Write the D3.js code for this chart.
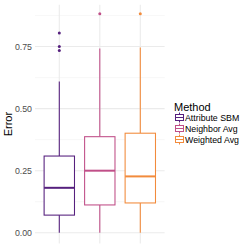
<!DOCTYPE html>
<html>
<head>
<meta charset="utf-8">
<script src="https://cdn.jsdelivr.net/npm/d3@7"></script>
<style>
body { margin: 0; background: #fff; }
text { font-family: "Liberation Sans", Arial, sans-serif; }
</style>
</head>
<body>
<div id="chart"></div>
<script>
let methods = ["Attribute SBM", "Neighbor Avg", "Weighted Avg"]
let colors = ["#56207e", "#c04f88", "#f28b3c"]
let lowerWhisker = [0, 0, 0]
let q1 = [0.071, 0.112, 0.120]
let median = [0.181, 0.250, 0.227]
let q3 = [0.309, 0.387, 0.401]
let upperWhisker = [0.609, 0.742, 0.746]
let outliers = [[0.805, 0.750, 0.734], [0.882], [0.882]]
let yTicks = [0, 0.25, 0.5, 0.75]
let yMinor = [0.125, 0.375, 0.625, 0.875]

let width = 249
let height = 249
let panelLeft = 35, panelRight = 164.6, panelTop = 4.7, panelBottom = 243.6

let svg = d3.select("#chart")
            .append("svg")
            .attr("width", width)
            .attr("height", height)

let xScale = d3.scalePoint()
    .domain(methods)
    .range([panelLeft, panelRight])
    .padding(0.6)
let step = xScale.step()
let boxW = step * 0.75

let yScale = d3.scaleLinear()
    .domain([-0.04375, 0.91875])
    .range([panelBottom, panelTop])

// grid
svg.selectAll("line.minor")
    .data(yMinor)
    .enter()
    .append("line")
    .attr("x1", panelLeft).attr("x2", panelRight)
    .attr("y1", d => yScale(d)).attr("y2", d => yScale(d))
    .attr("stroke", "#f2f2f2").attr("stroke-width", 0.6)

svg.selectAll("line.major")
    .data(yTicks)
    .enter()
    .append("line")
    .attr("x1", panelLeft).attr("x2", panelRight)
    .attr("y1", d => yScale(d)).attr("y2", d => yScale(d))
    .attr("stroke", "#ebebeb").attr("stroke-width", 1.07)

svg.selectAll("line.vgrid")
    .data(methods)
    .enter()
    .append("line")
    .attr("x1", d => xScale(d)).attr("x2", d => xScale(d))
    .attr("y1", panelTop).attr("y2", panelBottom)
    .attr("stroke", "#ebebeb").attr("stroke-width", 1.07)

// y axis labels
let yAxis = d3.axisLeft(yScale)
    .tickValues(yTicks)
    .tickFormat(d3.format(".2f"))
    .tickSize(0)
    .tickPadding(3)

let ag = svg.append("g")
    .attr("transform", "translate(" + panelLeft + ",0)")
    .call(yAxis)
ag.select(".domain").remove()
ag.selectAll("text")
    .attr("fill", "#4d4d4d")
    .style("font-size", "8.8px")
    .style("font-family", "Liberation Sans, Arial, sans-serif")

svg.append("text")
    .attr("transform", "translate(12," + ((panelTop + panelBottom) / 2) + ") rotate(-90)")
    .attr("text-anchor", "middle")
    .style("font-size", "11px")
    .text("Error")

// boxes
methods.forEach(function(m, i) {
    let g = svg.append("g")
    let cx = xScale(m)
    g.append("line")
        .attr("x1", cx).attr("x2", cx)
        .attr("y1", yScale(q3[i])).attr("y2", yScale(upperWhisker[i]))
        .attr("stroke", colors[i]).attr("stroke-width", 1.07)
    g.append("line")
        .attr("x1", cx).attr("x2", cx)
        .attr("y1", yScale(q1[i])).attr("y2", yScale(lowerWhisker[i]))
        .attr("stroke", colors[i]).attr("stroke-width", 1.07)
    g.append("rect")
        .attr("x", cx - boxW / 2)
        .attr("y", yScale(q3[i]))
        .attr("width", boxW)
        .attr("height", yScale(q1[i]) - yScale(q3[i]))
        .attr("fill", "white")
        .attr("stroke", colors[i]).attr("stroke-width", 1.07)
    g.append("line")
        .attr("x1", cx - boxW / 2).attr("x2", cx + boxW / 2)
        .attr("y1", yScale(median[i])).attr("y2", yScale(median[i]))
        .attr("stroke", colors[i]).attr("stroke-width", 2)
    g.selectAll("circle")
        .data(outliers[i])
        .enter()
        .append("circle")
        .attr("cx", cx)
        .attr("cy", d => yScale(d))
        .attr("r", 1.5)
        .attr("fill", colors[i])
})

// legend
let lg = svg.append("g").attr("transform", "translate(174,0)")
lg.append("text")
    .attr("x", 0).attr("y", 111)
    .style("font-size", "11px")
    .text("Method")

methods.forEach(function(m, i) {
    let y = 117.5 + i * 11
    let k = lg.append("g").attr("transform", "translate(1," + y + ")")
    k.append("line")
        .attr("x1", 4.5).attr("x2", 4.5).attr("y1", -5).attr("y2", 5)
        .attr("stroke", colors[i]).attr("stroke-width", 1)
    k.append("rect")
        .attr("x", 0.5).attr("y", -3).attr("width", 8).attr("height", 6)
        .attr("fill", "white")
        .attr("stroke", colors[i]).attr("stroke-width", 1)
    k.append("line")
        .attr("x1", 0.5).attr("x2", 8.5).attr("y1", 0).attr("y2", 0)
        .attr("stroke", colors[i]).attr("stroke-width", 1)
    lg.append("text")
        .attr("x", 11).attr("y", y + 3.2)
        .style("font-size", "8.8px")
        .text(m)
})
</script>
</body>
</html>
